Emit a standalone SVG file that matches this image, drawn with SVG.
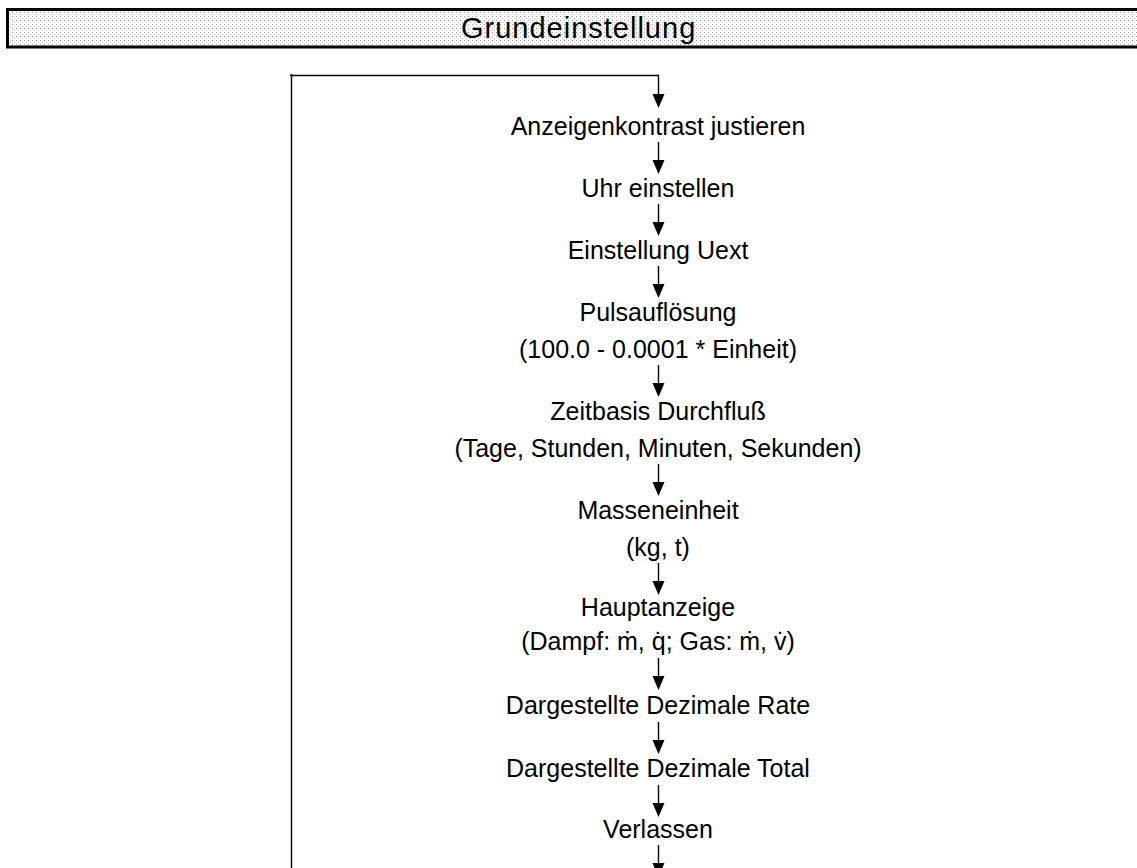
<svg xmlns="http://www.w3.org/2000/svg" width="1137" height="868" viewBox="0 0 1137 868">
  <defs>
    <pattern id="dots" width="4" height="4" patternUnits="userSpaceOnUse">
      <rect width="4" height="4" fill="#ffffff"/>
      <rect x="0" y="0" width="1" height="1" fill="#9a9a9a"/>
      <rect x="2" y="2" width="1" height="1" fill="#c4c4c4"/>
    </pattern>
    <style>
      .t { font-family: "Liberation Sans", Arial, sans-serif; font-size: 25px; fill: #000; text-anchor: middle; }
      .h { font-family: "Liberation Sans", Arial, sans-serif; font-size: 29px; fill: #000; letter-spacing: 1px; }
      .c { stroke: #000; stroke-width: 1.4; fill: none; }
      .hd { fill: #000; }
    </style>
  </defs>

  <g id="header">
    <rect x="7.5" y="9.5" width="1140" height="37.5" fill="url(#dots)" stroke="#000" stroke-width="3"/>
    <text class="h" x="461" y="38">Grundeinstellung</text>
  </g>

  <g id="connectors">
    <path class="c" d="M291.5,74 L291.5,868"/>
    <path class="c" d="M290,75.5 L658.5,75.5 L658.5,95"/>
    <path class="hd" d="M652.5,94 L664.5,94 L658.5,108 Z"/>
    <path class="c" d="M658.5,142 V161"/><path class="hd" d="M652.5,160 L664.5,160 L658.5,174 Z"/>
    <path class="c" d="M658.5,204 V223"/><path class="hd" d="M652.5,222 L664.5,222 L658.5,236 Z"/>
    <path class="c" d="M658.5,266 V285"/><path class="hd" d="M652.5,284 L664.5,284 L658.5,298 Z"/>
    <path class="c" d="M658.5,365 V384"/><path class="hd" d="M652.5,383 L664.5,383 L658.5,397 Z"/>
    <path class="c" d="M658.5,464 V483"/><path class="hd" d="M652.5,482 L664.5,482 L658.5,496 Z"/>
    <path class="c" d="M658.5,563 V582"/><path class="hd" d="M652.5,581 L664.5,581 L658.5,595 Z"/>
    <path class="c" d="M658.5,658 V677"/><path class="hd" d="M652.5,676 L664.5,676 L658.5,690 Z"/>
    <path class="c" d="M658.5,722 V741"/><path class="hd" d="M652.5,740 L664.5,740 L658.5,754 Z"/>
    <path class="c" d="M658.5,785 V804"/><path class="hd" d="M652.5,803 L664.5,803 L658.5,817 Z"/>
    <path class="c" d="M658.5,845 V868"/><path class="hd" d="M652.5,863 L664.5,863 L658.5,877 Z"/>
  </g>

  <g id="n1"><text class="t" x="658" y="135">Anzeigenkontrast justieren</text></g>
  <g id="n2"><text class="t" x="658" y="197">Uhr einstellen</text></g>
  <g id="n3"><text class="t" x="658" y="259">Einstellung Uext</text></g>
  <g id="n4"><text class="t" x="658" y="321">Pulsauflösung</text><text class="t" x="658" y="358">(100.0 - 0.0001 * Einheit)</text></g>
  <g id="n5"><text class="t" x="658" y="420">Zeitbasis Durchfluß</text><text class="t" x="658" y="457">(Tage, Stunden, Minuten, Sekunden)</text></g>
  <g id="n6"><text class="t" x="658" y="519">Masseneinheit</text><text class="t" x="658" y="556">(kg, t)</text></g>
  <g id="n7"><text class="t" x="658" y="616">Hauptanzeige</text><text class="t" x="658" y="650">(Dampf: ṁ, q̇; Gas: ṁ, v̇)</text></g>
  <g id="n8"><text class="t" x="658" y="714">Dargestellte Dezimale Rate</text></g>
  <g id="n9"><text class="t" x="658" y="777">Dargestellte Dezimale Total</text></g>
  <g id="n10"><text class="t" x="658" y="838">Verlassen</text></g>
</svg>
